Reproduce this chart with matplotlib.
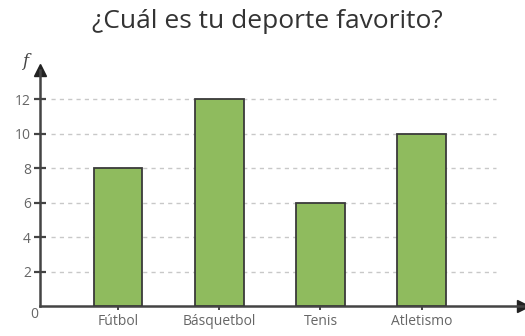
import matplotlib.pyplot as plt

deportes = ['Fútbol', 'Básquetbol', 'Tenis', 'Atletismo']
frecuencia = [8, 12, 6, 10]
ticks_y = [2, 4, 6, 8, 10, 12]

plt.rcParams['font.family'] = ['Open Sans', 'DejaVu Sans']

fig = plt.figure(figsize=(5.25, 3.36), dpi=100)
ax = fig.add_axes([0.0762, 0.0893, 0.92, 0.7024])

x = range(len(deportes))
ax.bar(x, frecuencia, width=0.48, color='#8fbb5e', edgecolor='#3a3a3a',
       linewidth=1.3, zorder=3)

# lineas guia punteadas
ax.hlines(ticks_y, -0.66, 3.73, colors='#c8c8c8', linestyles=(0, (3, 3)),
          linewidth=1, zorder=1)

ax.set_xlim(-0.77, 4.0)
ax.set_ylim(0, 13.7)

for s in ['top', 'right']:
    ax.spines[s].set_visible(False)
for s in ['left', 'bottom']:
    ax.spines[s].set_color('#444444')
    ax.spines[s].set_linewidth(1.8)

ax.set_yticks(ticks_y)
ax.set_xticks(list(x))
ax.set_xticklabels(deportes)
ax.tick_params(axis='y', direction='inout', length=9, width=1.6,
               color='#444444', labelcolor='#666666', labelsize=10, pad=2)
ax.tick_params(axis='x', direction='inout', length=6, width=1.4,
               color='#444444', labelcolor='#666666', labelsize=10, pad=3)

# flechas de los ejes
ax.plot(1, 0, '>', color='#222222', markersize=8, transform=ax.transAxes,
        clip_on=False)
ax.plot(0, 1, '^', color='#222222', markersize=8, transform=ax.transAxes,
        clip_on=False)

fig.text(0.042, 0.805, 'f', fontsize=12, style='italic', color='#444444',
         family='DejaVu Serif')
fig.text(0.057, 0.055, '0', fontsize=10, color='#666666')

fig.text(0.51, 0.935, '¿Cuál es tu deporte favorito?', fontsize=19,
         color='#333333', ha='center', va='center')

fig.savefig('out.png')
